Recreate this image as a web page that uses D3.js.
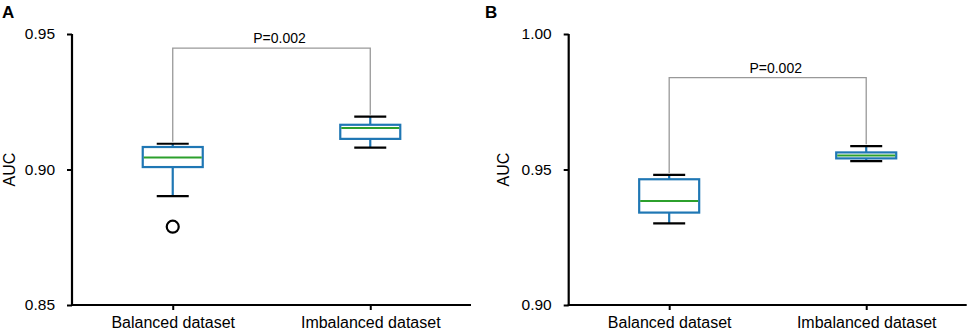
<!DOCTYPE html>
<html>
<head>
<meta charset="utf-8">
<script src="https://cdn.jsdelivr.net/npm/d3@7"></script>
<style>
  html, body { margin: 0; padding: 0; background: #fff; }
  svg { display: block; font-family: "Liberation Sans", Arial, sans-serif; }
</style>
</head>
<body>
<svg id="chart" width="969" height="330"></svg>
<script>
// ---- data ----
const categories = ["Balanced dataset", "Imbalanced dataset"];

// Panel A: [lowerWhisker, q1, median, q3, upperWhisker]
const statsA = [
  [0.8902, 0.9009, 0.9044, 0.9083, 0.9095],
  [0.9081, 0.9113, 0.9153, 0.9165, 0.9195]
];
const outliersA = [[0.8789], []];
const ticksA = [0.85, 0.90, 0.95];
const domainA = [0.85, 0.95];
const bracketA = 0.9448;

// Panel B
const statsB = [
  [0.9301, 0.9341, 0.9384, 0.9464, 0.9480],
  [0.9531, 0.9541, 0.9552, 0.9563, 0.9586]
];
const outliersB = [[], []];
const ticksB = [0.90, 0.95, 1.00];
const domainB = [0.90, 1.00];
const bracketB = 0.9839;

const pLabel = "P=0.002";
const yLabel = "AUC";

// ---- drawing ----
const svg = d3.select("#chart");
const BLUE = "#1f77b4", GREEN = "#2ca02c";

function panel(opts) {
  const g = svg.append("g");
  const y = d3.scaleLinear().domain(opts.domain).range([305, 34]);
  const x = d3.scalePoint().domain(categories).range([opts.x0, opts.x1]).padding(0.51);

  // panel letter
  g.append("text").attr("x", opts.letterX).attr("y", 18)
    .attr("font-size", 17).attr("font-weight", "bold").text(opts.letter);

  // y axis
  const ya = g.append("g").attr("transform", `translate(${opts.x0},0)`)
    .call(d3.axisLeft(y).tickValues(opts.ticks).tickFormat(d3.format(".2f")).tickSizeOuter(0).tickSize(5).tickPadding(12));
  ya.select(".domain").attr("stroke-width", 2.2).attr("d", `M0,${y(opts.domain[1])}V${y(opts.domain[0])}`);
  ya.selectAll(".tick line").attr("stroke-width", 2);
  ya.selectAll(".tick text").attr("font-size", 15.5).attr("fill", "#000")
    .attr("font-family", "'Liberation Sans', Arial, sans-serif");

  // x axis
  const xa = g.append("g").attr("transform", `translate(0,305)`)
    .call(d3.axisBottom(x).tickSizeOuter(0).tickSize(5).tickPadding(7));
  xa.select(".domain").attr("stroke-width", 2.2).attr("d", `M${opts.x0 - 1},0H${opts.x1}`);
  xa.selectAll(".tick line").attr("stroke-width", 2);
  xa.selectAll(".tick text").attr("font-size", 16).attr("fill", "#000")
    .attr("font-family", "'Liberation Sans', Arial, sans-serif");

  // y label
  g.append("text")
    .attr("transform", `translate(${opts.labelX},${y((opts.domain[0] + opts.domain[1]) / 2)}) rotate(-90)`)
    .attr("text-anchor", "middle").attr("dominant-baseline", "central")
    .attr("font-size", 16).text(yLabel);

  const boxW = 60, capW = 32;
  categories.forEach((c, i) => {
    const s = opts.stats[i];
    const cx = x(c);
    const bg = g.append("g");
    // whiskers
    bg.append("line").attr("x1", cx).attr("x2", cx).attr("y1", y(s[0])).attr("y2", y(s[1]))
      .attr("stroke", BLUE).attr("stroke-width", 2.2);
    bg.append("line").attr("x1", cx).attr("x2", cx).attr("y1", y(s[3])).attr("y2", y(s[4]))
      .attr("stroke", BLUE).attr("stroke-width", 2.2);
    // caps
    [s[0], s[4]].forEach(v => {
      bg.append("line").attr("x1", cx - capW / 2).attr("x2", cx + capW / 2)
        .attr("y1", y(v)).attr("y2", y(v)).attr("stroke", "#000").attr("stroke-width", 2.2);
    });
    // box
    bg.append("rect").attr("x", cx - boxW / 2).attr("width", boxW)
      .attr("y", y(s[3])).attr("height", y(s[1]) - y(s[3]))
      .attr("fill", "none").attr("stroke", BLUE).attr("stroke-width", 2.2);
    // median
    bg.append("line").attr("x1", cx - boxW / 2 + 1).attr("x2", cx + boxW / 2 - 1)
      .attr("y1", y(s[2])).attr("y2", y(s[2])).attr("stroke", GREEN).attr("stroke-width", 2);
    // outliers
    opts.outliers[i].forEach(v => {
      bg.append("circle").attr("cx", cx).attr("cy", y(v)).attr("r", 6)
        .attr("fill", "none").attr("stroke", "#000").attr("stroke-width", 2.2);
    });
  });

  // significance bracket
  const xl = x(categories[0]), xr = x(categories[1]);
  const yb = y(opts.bracket);
  const yl = y(opts.stats[0][4]) - 2, yr = y(opts.stats[1][4]) - 2;
  g.append("path")
    .attr("d", `M${xl},${yl}V${yb}H${xr}V${yr}`)
    .attr("fill", "none").attr("stroke", "#999").attr("stroke-width", 1.3);
  g.append("text").attr("x", (xl + xr) / 2 + 8).attr("y", yb - 5)
    .attr("text-anchor", "middle").attr("font-size", 14).text(pLabel);
}

panel({ letter: "A", letterX: 2, x0: 72, x1: 471, labelX: 9,
        domain: domainA, ticks: ticksA, stats: statsA, outliers: outliersA, bracket: bracketA });
panel({ letter: "B", letterX: 485, x0: 568.7, x1: 966.7, labelX: 503,
        domain: domainB, ticks: ticksB, stats: statsB, outliers: outliersB, bracket: bracketB });
</script>
</body>
</html>
